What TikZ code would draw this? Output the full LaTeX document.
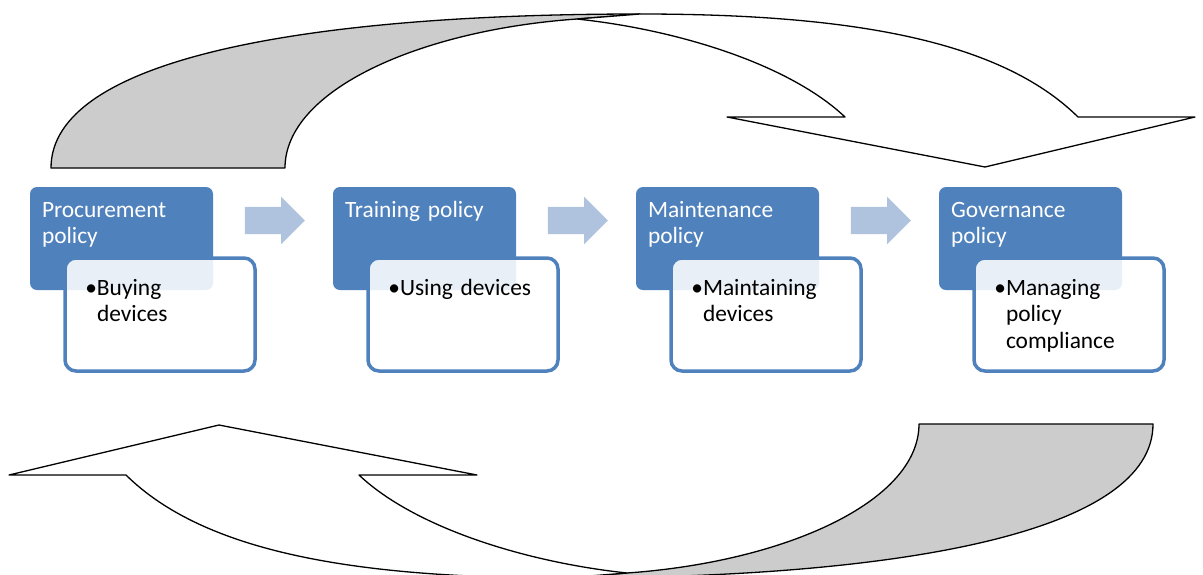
\documentclass[tikz,border=0pt]{standalone}
\usepackage{fontspec}
\setmainfont{Carlito}
\usetikzlibrary{positioning,calc,shapes.arrows}

\definecolor{boxblue}{HTML}{4F81BD}
\definecolor{arrowblue}{HTML}{AFC2DE}
\definecolor{backgray}{HTML}{CCCCCC}

\newcommand{\bul}[1]{\leftskip=12pt\leavevmode\llap{\textbullet}#1\par}

\begin{document}
\begin{tikzpicture}[
x=1pt,y=-1pt,
node distance=120pt,
every node/.style={font=\fontsize{23.4}{26.5}\selectfont,outer sep=0pt},
policy/.style={fill=boxblue,text=white,rounded corners=7pt,inner sep=12pt,
  text width=159pt,align=left,text height=18pt,text depth=61pt},
task/.style={draw=boxblue,line width=3.5pt,fill=white,fill opacity=0.88,text opacity=1,
  rounded corners=11pt,inner xsep=20pt,inner ysep=19pt,text width=150pt,align=left,
  text height=18pt,text depth=57pt},
steparrow/.style={single arrow,fill=arrowblue,minimum height=60pt,text height=13.5pt,
  text depth=13.5pt,single arrow head extend=10pt,inner sep=0pt},
swirl/.style={draw,line width=1.3pt,line join=round}
]
\useasboundingbox (0,0) rectangle (1203,574);
\clip (0,0) rectangle (1203,574);

% the two big turning arrows, the lower one is the upper one turned round
\foreach \ang in {0,180}{
  \begin{scope}[rotate around={\ang:(602,296)}]
    \path[swirl,fill=backgray] (51,168) .. controls (51,60) and (300,14) .. (640,14)
      -- (577,19) .. controls (420,30) and (285,90) .. (285,168) -- cycle;
    \path[swirl,fill=white] (577,19) .. controls (680,30) and (790,65) .. (845,117)
      -- (727,117) -- (985,167) -- (1195,117) -- (1078,117)
      .. controls (1000,40) and (850,14) .. (640,14) -- cycle;
  \end{scope}
}

\node[policy,anchor=north west] (proc) at (30,187) {Procurement\\policy};
\node[policy] (train) [right=of proc] {Training policy};
\node[policy] (maint) [right=of train] {Maintenance\\policy};
\node[policy] (gov) [right=of maint] {Governance\\policy};

\node[task] (buy) [below right=-32pt and -148pt of proc] {\bul{Buying\newline devices}};
\node[task] (use) [below right=-32pt and -148pt of train] {\bul{Using devices}};
\node[task] (keep) [below right=-32pt and -148pt of maint] {\bul{Maintaining\newline devices}};
\node[task] (manage) [below right=-32pt and -148pt of gov] {\bul{Managing\newline policy\newline compliance}};

\node[steparrow] (ar1) at ($(proc.north east)!.5!(train.north west)+(-5,33.5)$) {};
\node[steparrow] (ar2) at ($(train.north east)!.5!(maint.north west)+(-5,33.5)$) {};
\node[steparrow] (ar3) at ($(maint.north east)!.5!(gov.north west)+(-5,33.5)$) {};

\end{tikzpicture}
\end{document}
